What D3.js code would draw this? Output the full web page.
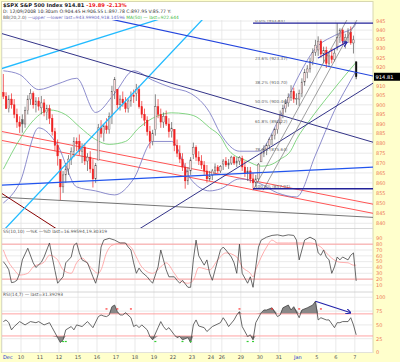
<!DOCTYPE html>
<html><head><meta charset="utf-8">
<script src="https://cdn.jsdelivr.net/npm/d3@7"></script>
<style>
body{margin:0;background:#ffffcc;}
svg{display:block;font-family:"DejaVu Sans",sans-serif;}
</style></head><body><div id="chart"></div>
<script>
// day labels on the bottom axis and the bar index where each day starts (60 min bars)
const dayLabels = ["Dec","10","11","12","15","16","17","18","19","22","23","24","26","29","30","31","Jan","5","6","7"];
const dayStarts = [0,7,14,21,28,35,42,49,56,63,70,77,81,88,95,102,109,116,123,130];

const opens = [906.5,904.5,898,903,900,895,891, 892.2,890,897,903,906,900,902, 898.4,901,896,898,893,886,879,
 871.8,858,864,867,872,876,881, 881.1,876,878,871,873,867,862, 871.5,888,885,889,887,894,907,
 908.2,900,903,901,898,902,905, 906,908,899,895,892,886,881, 887,899,895,891,894,890,886,
 887.2,879,875,872,868,861,866, 874.3,878,873,871,869,866,862, 863.9,866,868,866,
 869.5,871,869,870,873,870,871, 872.4,868,865,866,862,860,862, 870.6,875,877,879,882,884,887,
 890.6,895,898,901,904,907,903, 903,906,912,917,919,923,928, 929.2,934,927,929,922,926,924,
 931.2,936,940,934,936,939,933, 922.8];
const highs = [916.3,906.6,905,906,903,898,894, 895,899,905,908.3,907,904,904, 904.6,903,900,900,895,888,882,
 872,866,870,874,878,883.2,883, 884.6,880,880,875,876,872,870, 890,892,890,893,896,910,914.7,
 908.2,905,907,904,903,907,908, 911,910,902,898,894,889,887, 905.5,903,898,896,897,893,891,
 887.4,882,879,875,870,868,873, 880.4,879,876,874,871,869,866, 867,869.8,869,869,
 872,873,872,873.7,873.5,873,873.5, 873.7,871,868,868,865,864,870, 876,879,880,883,885,888,891.1,
 897,900,903,906,910.3,909,906, 908,914,919,921,925,930,934.7, 936.6,935,931,931,928,930,930,
 943.9,941,941,938,941,942,937, 923];
const lows = [903,897.8,896,898,893,888,885.4, 885.5,888,895,900,898,896,897, 895,894,892,890,884,876,868.7,
 851.4,855,860,864,869,873,876, 874,870,869,866,865,857.7,860, 871.5,883,881,885,885,890,903,
 898,897,899,896,895.9,899,901, 902,898,893,889,884,877.4,879, 884,893,888,888,889,883,883,
 876,873,870,866,857.1,859,864, 872,871,869,867,864,860.1,861, 861.4,864,865,865,
 866.5,868,867,869,869,868,869, 866,863,861,860,857.1,858,861, 870.6,873,874,877,879,882,885,
 889.7,893,896,899,902,901,900, 899.4,904,910,914,917,921,926, 926,925,922,919.5,920,922,923,
 929,933,932,930,933,932,927.3, 913.5];
const closes = [904.5,898,903,900,895,891,888.7, 890,897,903,906,900,902,899.2, 901,896,898,893,886,879,873.6,
 858,864,867,872,876,881,879.7, 876,878,871,873,867,862,868.6, 888,885,889,887,894,907,913.2,
 900,903,901,898,902,905,904.4, 908,899,895,892,886,881,885.3, 899,895,891,894,890,886,887.9,
 879,875,872,868,861,866,871.6, 878,873,871,869,866,862,863.2, 866,868,866,868.2,
 871,869,870,873,870,871,872.8, 868,865,866,862,860,862,869.4, 875,877,879,882,884,887,890.6,
 895,898,901,904,907,903,903.3, 906,912,917,919,923,928,931.8, 934,927,929,922,926,924,927.5,
 936,940,934,936,939,933,934.7, 914.81];

// Bollinger bands and moving average, read at sample bars
const bbIdx   = [0,6,13,20,27,34,41,48,55,62,69,76,80,87,94,101,108,115,122,129,130];
const bbUpper = [918,916,908,911,914,896,906,918,913,909,906,896,885,876,876,891,913,930,937,941.5,944];
const bbLower = [850,860,888,879,858,856,854,862,881,881,862,856,857,862,860,855,853,874,897,915.5,918.1];
const maIdx = [0,6,12,17,23,28,34,39,45,50,54,58,62,67,71,76,80,83,90,95,98,102,106,108,113,120,126,130];
const maVal = [866.9,882,893.2,897.3,894.8,888.6,882,879.5,881,888.1,892.2,894.8,895.8,895.3,893.8,888.1,883.5,876.5,870.9,868.4,868.9,871.9,876.5,882,892.2,905.1,915.7,922.6];

// slow stochastic
const kIdx = [0,1,2,3,4,5,6,7,9,11,12,14,15,16,17,18,19,20,22,23,25,26,27,28,29,31,33,34,35,36,37,39,41,43,45,46,47,48,49,50,51,53,54,55,57,58,59,60,61,63,64,65,66,68,69,70,71,72,74,75,76,77,79,80,81,82,84,85,86,87,88,90,91,92,93,94,95,97,99,101,103,105,107,108,109,110,111,113,115,116,117,118,119,120,121,122,123,124,125,127,128,129,130];
const kVal = [50,44,36,14,15,18,30,53,73,48,40,49,58,70,82,58,35,13,24,48,58,78,82,65,53,48,24,13,30,75,87,90,87,82,82,75,70,48,30,39,32,24,18,13,41,70,53,36,24,24,18,13,18,6,6,53,87,60,44,53,30,18,53,70,75,70,58,48,30,80,30,13,24,6,41,75,87,92,95,96,94,96,95,87,53,70,87,92,87,65,61,70,58,53,30,41,58,53,58,53,61,65,17];
const dIdx = [0,1,4,6,9,11,15,17,20,22,25,27,29,32,35,36,38,40,44,47,49,51,55,58,60,63,65,68,70,72,76,79,82,86,88,91,92,93,97,99,101,105,109,113,117,119,121,124,127,129,130];
const dVal = [70,58,36,27,30,41,49,61,53,36,30,48,56,41,30,36,65,78,82,75,58,41,30,41,48,30,18,13,18,40,36,53,65,58,41,30,24,36,75,87,82,82,82,82,75,65,56,49,48,44,44];

// RSI
const rsiIdx = [0,1,2,3,4,6,8,10,12,13,15,17,18,20,21,22,23,25,26,27,29,31,33,35,36,37,38,39,40,41,42,43,44,45,47,48,49,50,51,53,54,55,57,58,59,60,61,63,64,65,66,68,69,70,71,72,74,75,77,80,81,82,83,85,86,87,88,90,91,92,93,95,96,97,99,101,102,103,105,106,107,109,110,112,114,115,116,117,119,120,122,123,124,125,127,128,129,130];
const rsiVal = [56,59,54,41,47,56,50,56,54,56,50,54,45,27,18,23,41,47,41,50,47,56,45,65,68,66,65,68,83,86,74,68,68,72,63,47,50,45,50,41,29,23,45,56,47,41,45,32,27,29,23,27,18,50,59,48,45,38,47,54,63,56,47,59,68,74,47,29,32,23,54,72,77,77,81,65,68,81,86,77,83,63,77,81,86,93,59,63,59,59,45,54,54,56,56,63,50,32];
const rsiRedMarks = [38,42,47,87,99,109,117];
const rsiGreenMarks = [22,23,56,66,69,90,92];
const rsiArrow = [[115,93],[128,72]];
const priceArrow = [[116.4,924.8],[127.1,933.5]];

// trend lines as [bar slot, price] end points
const cyanLineA = [[-0.74,918.9],[70,951.7]];
const cyanLineB = [[-0.1,835.6],[77.2,951.1]];
const navyLineB = [[-0.74,938.4],[136.7,880.6]];
const blueLineC = [[36.1,947.3],[136.7,915.2]];
const blueLineD = [[-0.74,858.8],[136.7,867.9]];
const navyLineE = [[48.6,835.6],[136.7,911.4]];
const grayLineG = [[-0.74,852.9],[136.7,842.9]];
const redLine1 = [[-0.74,886.3],[136.7,849.4]];
const redLine2 = [[-0.74,881.7],[136.7,844.9]];
const maroonLine = [[-0.74,855.3],[22.1,835.6]];
const channel1 = [[92.5,856.3],[127.1,945.6]];
const channel2 = [[96.2,856.3],[130.8,945.6]];
const fibHigh = 943.85, fibLow = 857.07;
const fibPcts = [0,23.6,38.2,50,61.8,78.6,100];

const priceTicks = [945,940,935,930,925,920,910,905,900,895,890,885,880,875,870,865,860,855,850,845,840];
const stochTicks = [90,80,70,60,50,40,30,20,10];
const rsiTicks = [100,75,50,25,0];

const W = 400, H = 362;
const left = 2, right = 373;
const svg = d3.select("#chart").append("svg").attr("width", W).attr("height", H);

svg.append("rect").attr("x", 0).attr("y", 0).attr("width", W).attr("height", H).attr("fill", "#ffffcc");
svg.append("rect").attr("x", 1.5).attr("y", 1.5).attr("width", right - 1.5).attr("height", 351)
  .attr("fill", "#fff").attr("stroke", "#d8d8b0");

const x = d3.scaleLinear().domain([0, 131]).range([left, left + 131 * 2.714]);
const y = d3.scaleLog().domain([840, 945]).range([223.3, 21]);
const yS = d3.scaleLinear().domain([0, 100]).range([290.8, 232.5]);
const yR = d3.scaleLinear().domain([0, 100]).range([352.5, 297.3]);

const defs = svg.append("defs");
defs.append("clipPath").attr("id", "cp").append("rect").attr("x", left).attr("y", 20).attr("width", right - left).attr("height", 208);
defs.append("marker").attr("id", "arr").attr("viewBox", "0 0 10 10").attr("refX", 9).attr("refY", 5)
  .attr("markerWidth", 5).attr("markerHeight", 5).attr("orient", "auto")
  .append("path").attr("d", "M0,0L10,5L0,10").attr("fill", "none").attr("stroke", "#2222aa").attr("stroke-width", 2);

// grid
const grid = svg.append("g").attr("stroke", "#e4e4e4").attr("stroke-width", 0.8);
dayStarts.forEach(d => grid.append("line").attr("x1", x(d)).attr("x2", x(d)).attr("y1", 20).attr("y2", 352));
priceTicks.forEach(t => grid.append("line").attr("x1", left).attr("x2", right).attr("y1", y(t)).attr("y2", y(t)));
stochTicks.forEach(t => grid.append("line").attr("x1", left).attr("x2", right).attr("y1", yS(t)).attr("y2", yS(t)));
rsiTicks.forEach(t => grid.append("line").attr("x1", left).attr("x2", right).attr("y1", yR(t)).attr("y2", yR(t)));
svg.append("g").attr("stroke", "#cccccc").attr("stroke-width", 0.8).selectAll("line").data([228.5, 292]).join("line")
  .attr("x1", left).attr("x2", right).attr("y1", d => d).attr("y2", d => d);

// price panel
const pg = svg.append("g").attr("clip-path", "url(#cp)");
const seg = (g, pts, color, w) => g.append("line")
  .attr("x1", x(pts[0][0])).attr("y1", y(pts[0][1])).attr("x2", x(pts[1][0])).attr("y2", y(pts[1][1]))
  .attr("stroke", color).attr("stroke-width", w);

seg(pg, redLine1, "#ff5555", 1);
seg(pg, redLine2, "#ff5555", 1);
seg(pg, grayLineG, "#666666", 0.9);
seg(pg, maroonLine, "#880000", 1);

const bandLine = (vals) => d3.line().curve(d3.curveMonotoneX).x((d, i) => x(bbIdx[i] + 0.5)).y(d => y(d))(vals);
pg.append("path").attr("d", bandLine(bbUpper)).attr("fill", "none").attr("stroke", "#7070c0").attr("stroke-width", 0.8);
pg.append("path").attr("d", bandLine(bbLower)).attr("fill", "none").attr("stroke", "#7070c0").attr("stroke-width", 0.8);
pg.append("path").attr("d", d3.line().curve(d3.curveMonotoneX).x((d, i) => x(maIdx[i] + 0.5)).y(d => y(d))(maVal))
  .attr("fill", "none").attr("stroke", "#66cc66").attr("stroke-width", 0.8);

// candles
const candles = pg.append("g");
closes.forEach((c, i) => {
  const o = opens[i];
  const prev = i > 0 ? closes[i - 1] : o;
  const isLast = i === closes.length - 1;
  const col = isLast ? "#111111" : (c < prev ? "#ee2222" : "#555555");
  const cx = x(i + 0.5);
  candles.append("line").attr("x1", cx).attr("x2", cx).attr("y1", y(highs[i])).attr("y2", y(lows[i]))
    .attr("stroke", col).attr("stroke-width", 0.7);
  const top = y(Math.max(o, c)), bot = y(Math.min(o, c));
  candles.append("rect").attr("x", cx - 0.8).attr("y", top).attr("width", 1.6).attr("height", Math.max(0.6, bot - top))
    .attr("fill", c > o ? "#ffdddd" : col).attr("stroke", col).attr("stroke-width", 0.4);
});

seg(pg, cyanLineA, "#22bbff", 1.3);
seg(pg, cyanLineB, "#22bbff", 1.3);
seg(pg, navyLineB, "#333388", 1);
seg(pg, blueLineC, "#2244dd", 1.2);
seg(pg, blueLineD, "#2255ee", 1.2);
seg(pg, navyLineE, "#333388", 1);
seg(pg, channel1, "#777777", 0.7);
seg(pg, channel2, "#777777", 0.7);
seg(pg, [[92.5, fibHigh], [136.7, fibHigh]], "#222299", 1.3);
seg(pg, [[92.5, fibLow], [136.7, fibLow]], "#222299", 1.3);
seg(pg, priceArrow, "#2222aa", 1.1).attr("marker-end", "url(#arr)");

fibPcts.forEach(p => {
  const v = fibHigh - p / 100 * (fibHigh - fibLow);
  pg.append("text").attr("x", x(93.2)).attr("y", y(v) - 0.8).attr("font-size", 4.2).attr("fill", "#666")
    .text(p.toFixed(1) + "% (" + v.toFixed(2) + ")");
});

// stochastic panel
svg.append("g").selectAll("line").data([80, 20]).join("line")
  .attr("x1", left).attr("x2", right).attr("y1", d => yS(d)).attr("y2", d => yS(d))
  .attr("stroke", "#ff9999").attr("stroke-width", 0.9);
svg.append("path").attr("d", d3.line().curve(d3.curveMonotoneX).x((d, i) => x(dIdx[i] + 0.5)).y(d => yS(d))(dVal))
  .attr("fill", "none").attr("stroke", "#ff9999").attr("stroke-width", 0.8);
svg.append("path").attr("d", d3.line().x((d, i) => x(kIdx[i] + 0.5)).y(d => yS(d))(kVal))
  .attr("fill", "none").attr("stroke", "#444").attr("stroke-width", 0.8);

// RSI panel
const rx = (d, i) => x(rsiIdx[i] + 0.5);
svg.append("path").attr("d", d3.area().x(rx).y0(yR(70)).y1(d => yR(Math.max(d, 70)))(rsiVal)).attr("fill", "#888");
svg.append("path").attr("d", d3.area().x(rx).y0(yR(30)).y1(d => yR(Math.min(d, 30)))(rsiVal)).attr("fill", "#888");
svg.append("g").selectAll("line").data([70, 30]).join("line")
  .attr("x1", left).attr("x2", right).attr("y1", d => yR(d)).attr("y2", d => yR(d))
  .attr("stroke", "#ff9999").attr("stroke-width", 0.9);
svg.append("path").attr("d", d3.line().x(rx).y(d => yR(d))(rsiVal))
  .attr("fill", "none").attr("stroke", "#444").attr("stroke-width", 0.8);
svg.append("g").selectAll("rect").data(rsiRedMarks).join("rect")
  .attr("x", d => x(d + 0.5) - 1).attr("y", yR(80)).attr("width", 2).attr("height", 1.2).attr("fill", "#ff3333");
svg.append("g").selectAll("rect").data(rsiGreenMarks).join("rect")
  .attr("x", d => x(d + 0.5) - 1).attr("y", yR(21)).attr("width", 2).attr("height", 1.2).attr("fill", "#33cc33");
svg.append("line").attr("x1", x(rsiArrow[0][0] + 0.5)).attr("y1", yR(rsiArrow[0][1]))
  .attr("x2", x(rsiArrow[1][0] + 0.5)).attr("y2", yR(rsiArrow[1][1]))
  .attr("stroke", "#2222aa").attr("stroke-width", 1.1).attr("marker-end", "url(#arr)");

// right axis
const ax = svg.append("g").attr("font-size", 5).attr("fill", "#ee7755");
priceTicks.forEach(t => ax.append("text").attr("x", 376).attr("y", y(t) + 1.8).text(t));
stochTicks.forEach(t => ax.append("text").attr("x", 376).attr("y", yS(t) + 1.8).text(t));
rsiTicks.forEach(t => ax.append("text").attr("x", 376).attr("y", yR(t) + 1.8).text(t));
const last = closes[closes.length - 1];
svg.append("rect").attr("x", 374).attr("y", y(last) - 4).attr("width", 26).attr("height", 8).attr("fill", "#000");
svg.append("text").attr("x", 375.5).attr("y", y(last) + 2).attr("font-size", 5.2).attr("fill", "#fff").text(last.toFixed(2));

// bottom axis
svg.append("g").selectAll("text").data(dayLabels).join("text")
  .attr("x", (d, i) => i === 0 ? 3 : x(dayStarts[i]))
  .attr("y", 358.5).attr("font-size", 5).attr("text-anchor", (d, i) => i === 0 ? "start" : "middle")
  .attr("fill", d => (d === "Dec" || d === "Jan") ? "#2233cc" : "#555").text(d => d);

// header texts
const hdr = svg.append("g").attr("font-size", 5.2);
const t1 = hdr.append("text").attr("x", 3).attr("y", 6.5);
t1.append("tspan").attr("font-weight", "bold").attr("fill", "#222").text("$SPX S&P 500 Index  914.81 ");
t1.append("tspan").attr("fill", "#ee2222").attr("font-weight", "bold").text(" -19.89  -2.13%");
hdr.append("text").attr("x", 3).attr("y", 13).attr("fill", "#333").attr("font-size", 4.6)
  .text("D: 12/09/2008 10:30am  O:904.45  H:906.55  L:897.78  C:897.95  V:85.77  Y:");
const t3 = hdr.append("text").attr("x", 3).attr("y", 19.2).attr("font-size", 4.4);
t3.append("tspan").attr("fill", "#555").text("BB(20,2.0) ");
t3.append("tspan").attr("fill", "#6a6ac0").text("\u2014upper \u2014lower last=943.99904,918.14596 ");
t3.append("tspan").attr("fill", "#44bb44").text("MA(50) \u2014 last=922.644");
svg.append("text").attr("x", 3).attr("y", 233).attr("font-size", 4.4).attr("fill", "#555")
  .text("SS(10,10) \u2014%K \u2014%D last=16.99594,19.30319");
svg.append("text").attr("x", 3).attr("y", 296).attr("font-size", 4.4).attr("fill", "#555")
  .text("RSI(14,7) \u2014 last=31.39293");
</script></body></html>
